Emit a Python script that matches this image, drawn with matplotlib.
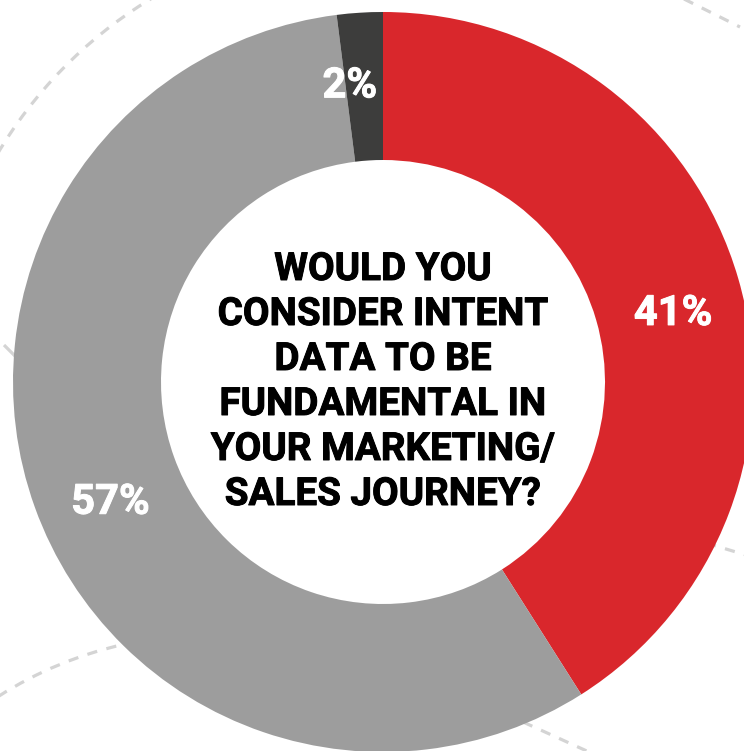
import numpy as np
import matplotlib
matplotlib.use("Agg")
import matplotlib.pyplot as plt
from matplotlib.patches import Arc
import matplotlib.patheffects as pe

# Survey answers: share of respondents (%), clockwise from the top
categories = ["Yes", "No", "Not sure"]
shares = [41, 57, 2]
slice_labels = ["41%", "57%", "2%"]
slice_colors = ["#D9272C", "#9D9D9D", "#3D3D3C"]
question_lines = ["WOULD YOU", "CONSIDER INTENT", "DATA TO BE",
                  "FUNDAMENTAL IN", "YOUR MARKETING/", "SALES JOURNEY?"]

W, H = 744, 751
plt.rcParams["font.family"] = ["Roboto", "DejaVu Sans"]

fig = plt.figure(figsize=(W / 100, H / 100), dpi=100)
ax = fig.add_axes([0, 0, 1, 1])

# donut geometry in pixel-like units (y up)
cx, cy = 383, H - 382
R_out, ring = 370, 148

ax.pie(shares, colors=slice_colors, startangle=90, counterclock=False,
       radius=R_out, center=(cx, cy),
       wedgeprops=dict(width=ring, linewidth=0))

# decorative dashed guide circles behind the donut
dash_kw = dict(color="#D4D4D4", lw=2.3, linestyle=(0, (3.2, 3.0)), zorder=0.5)
ax.add_patch(Arc((cx, cy), 2 * 448, 2 * 448, theta1=110, theta2=165, **dash_kw))
ax.add_patch(Arc((209, H - 1027), 2 * 392, 2 * 392, theta1=95, theta2=135, **dash_kw))
ax.plot([684, 740], [H + 1, H - 27], **dash_kw)
ax.plot([706, 746], [H - 543, H - 555], **dash_kw)
ax.plot([523, 600], [H - 722, H - 757], **dash_kw)
ax.plot([4, 18], [H - 345, H - 359], color="#D4D4D4", lw=2.3, zorder=0.5,
        solid_capstyle="butt")

# percentage labels placed around each slice's mid-angle
label_nudge = [2.9, -4.0, -2.8]
label_r = 298
start = 0.0
total = float(sum(shares))
for share, lab, nudge in zip(shares, slice_labels, label_nudge):
    mid = (start + share / 2) / total * 360 + nudge
    start += share
    th = np.deg2rad(mid)
    ax.text(cx + label_r * np.sin(th), cy + label_r * np.cos(th), lab,
            color="white", fontsize=30, fontweight="bold",
            ha="center", va="center", zorder=3,
            path_effects=[pe.withStroke(linewidth=0.7, foreground="white")])

# question in the hole
pitch = 45
for i, line in enumerate(question_lines):
    yc = cy + (2.5 - i) * pitch
    ax.text(cx, yc, line, color="black", fontsize=27.8, fontweight="bold",
            ha="center", va="center", zorder=3,
            path_effects=[pe.withStroke(linewidth=0.7, foreground="black")])

ax.set_xlim(0, W)
ax.set_ylim(0, H)
ax.set_aspect("equal")
ax.axis("off")
fig.savefig("out.png", dpi=100, facecolor="white")
